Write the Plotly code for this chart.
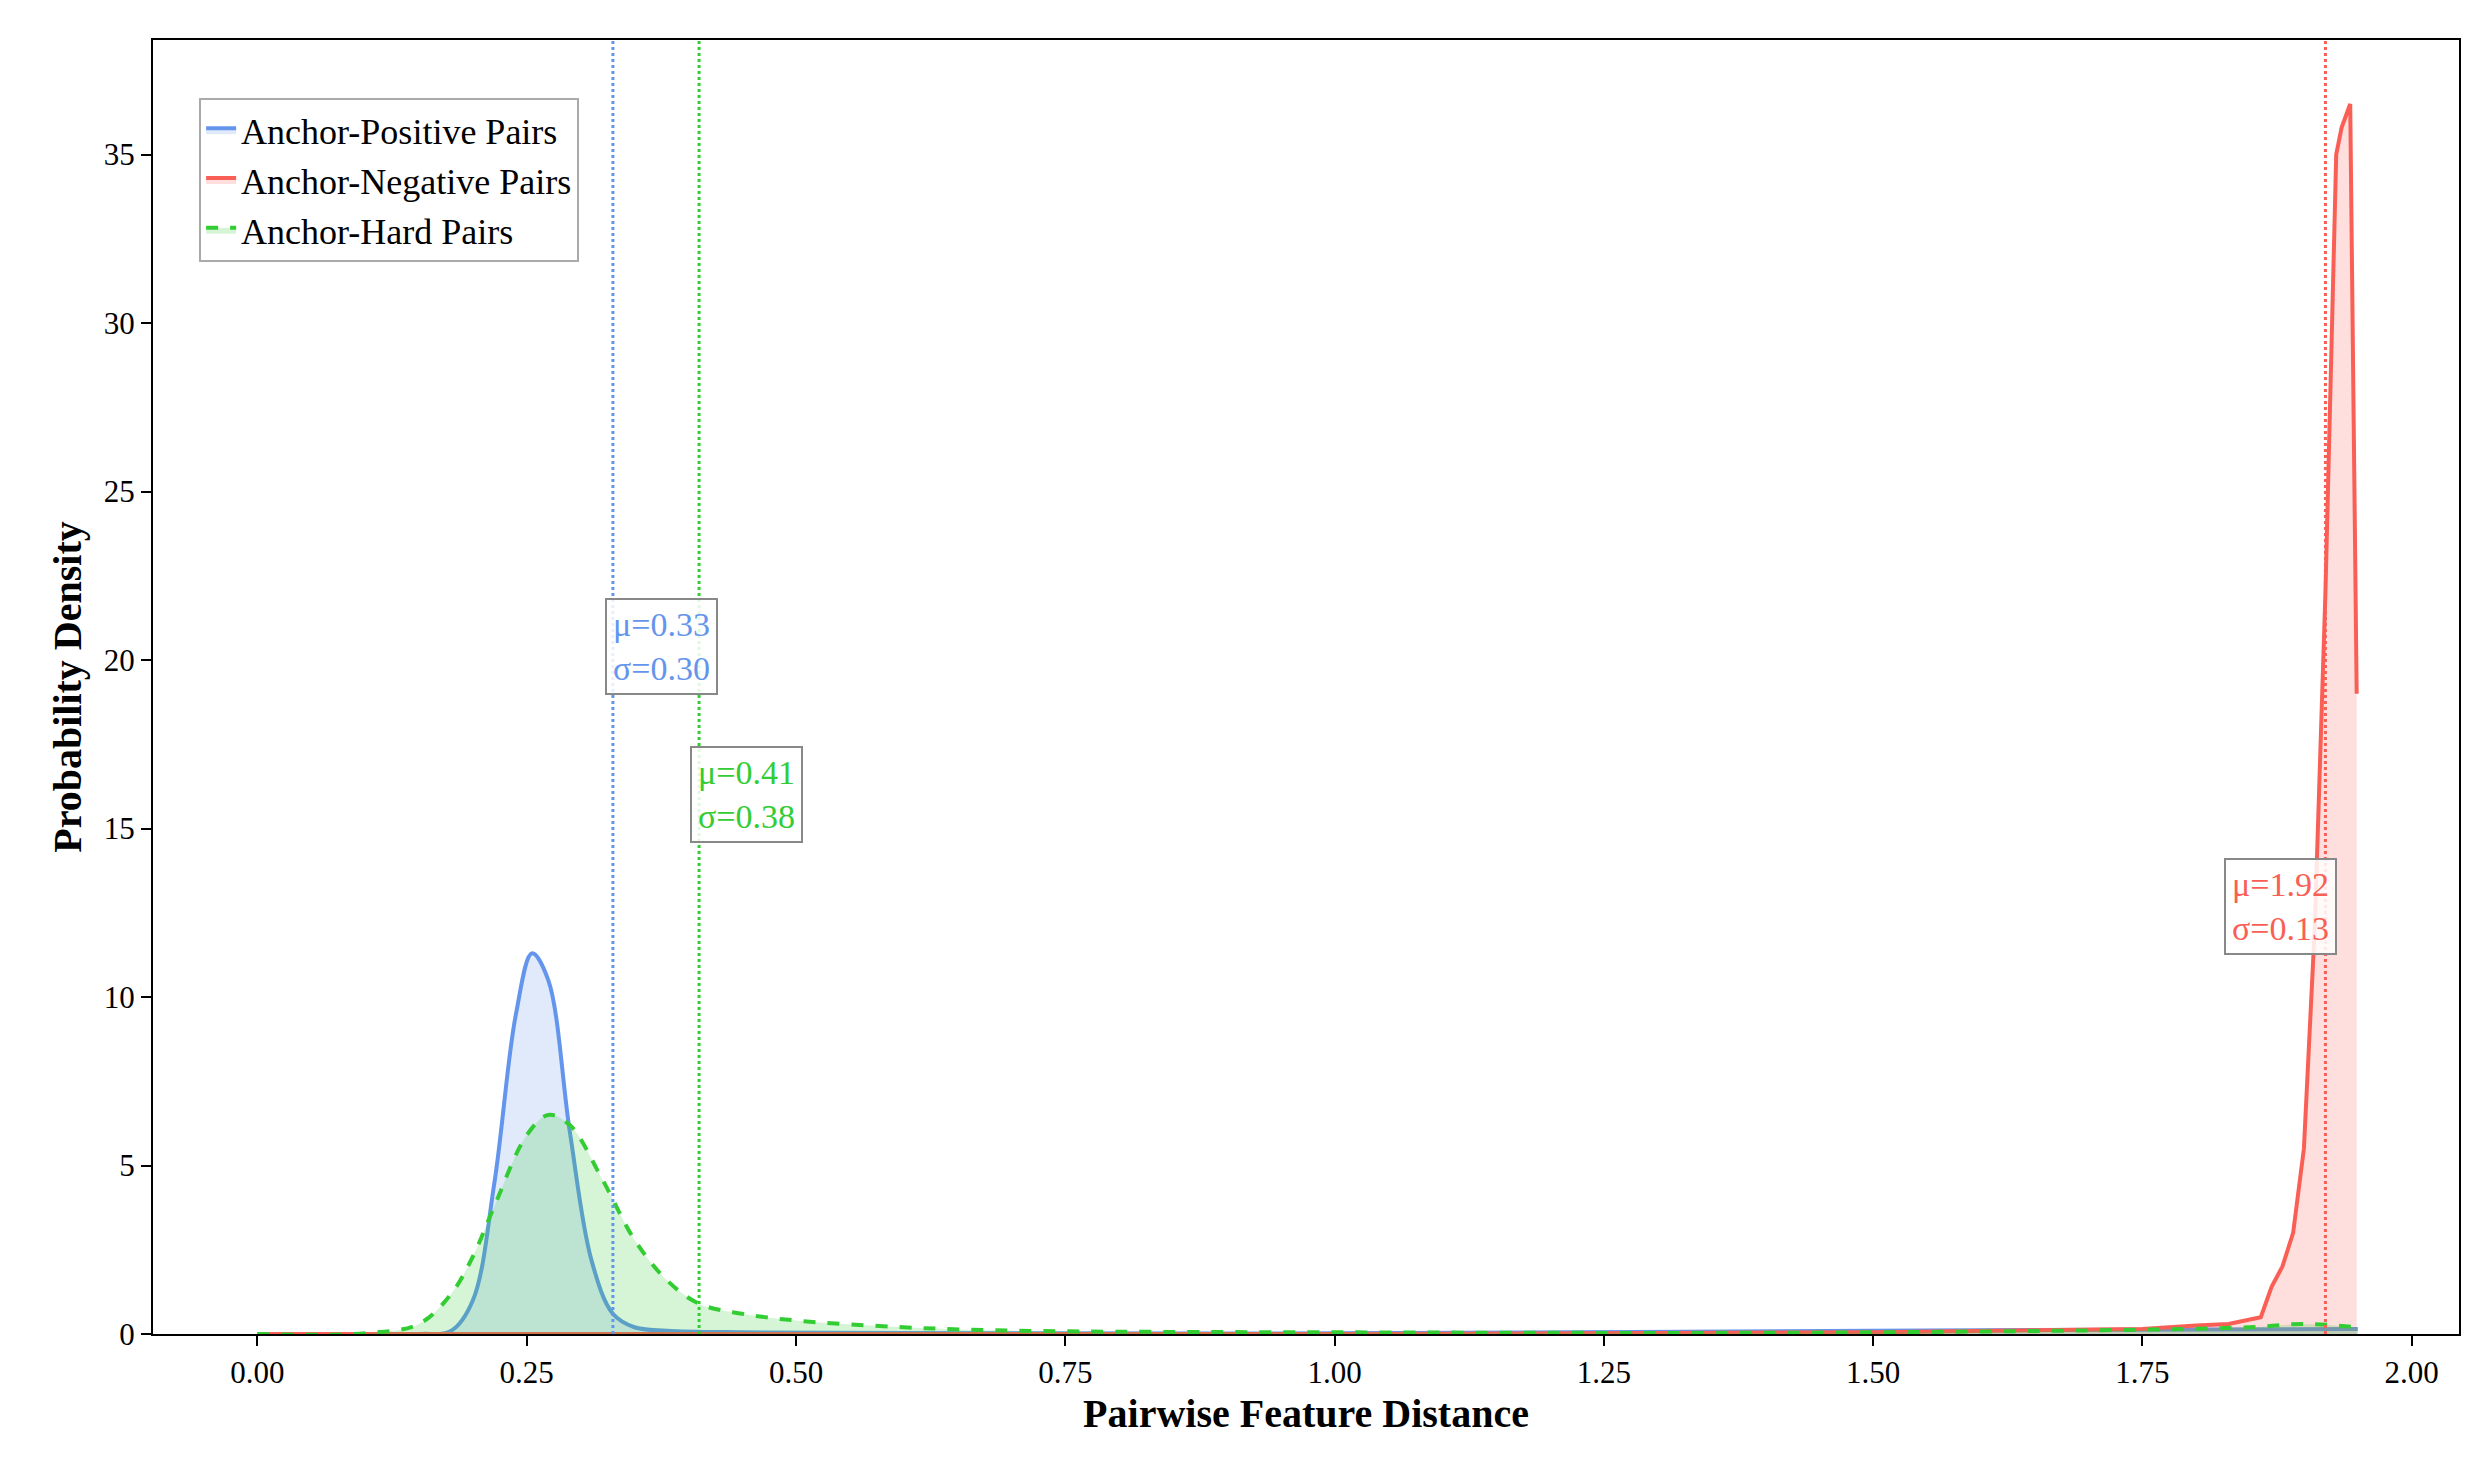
import plotly.graph_objects as go

# KDE curves
pos_x = [0, 0.15, 0.18, 0.20, 0.22, 0.24, 0.255, 0.27, 0.29, 0.31, 0.33, 0.35, 0.38, 0.45, 0.6, 1.0, 1.5, 1.95]
pos_y = [0, 0, 0.1, 1.0, 4.5, 9.5, 11.3, 10.5, 6.0, 2.2, 0.6, 0.2, 0.1, 0.05, 0.03, 0.02, 0.1, 0.15]

hard_x = [0, 0.1, 0.15, 0.18, 0.2, 0.22, 0.25, 0.27, 0.29, 0.32, 0.35, 0.38, 0.41, 0.45, 0.5, 0.6, 0.7, 1.0, 1.5, 1.85, 1.9, 1.95]
hard_y = [0, 0.02, 0.3, 1.2, 2.3, 3.8, 5.9, 6.5, 6.2, 4.6, 2.8, 1.6, 0.9, 0.6, 0.4, 0.2, 0.1, 0.05, 0.05, 0.2, 0.3, 0.2]

neg_x = [0, 0.5, 1.0, 1.5, 1.75, 1.8, 1.83, 1.86, 1.87, 1.88, 1.89, 1.90, 1.91, 1.92, 1.93, 1.935, 1.943, 1.949]
neg_y = [0, 0, 0, 0.05, 0.15, 0.25, 0.3, 0.5, 1.4, 2.0, 3.0, 5.5, 12, 22, 35.0, 35.8, 36.5, 19]

means = {"pos": 0.33, "hard": 0.41, "neg": 1.92}
stds = {"pos": 0.30, "hard": 0.38, "neg": 0.13}

BLUE, RED, GREEN = "#6495ED", "#FA5F55", "#32CD32"
FONT = "Liberation Serif"

fig = go.Figure()
fig.add_trace(go.Scatter(x=pos_x, y=pos_y, mode="lines", line=dict(color=BLUE, width=4, shape="spline"),
                         fill="tozeroy", fillcolor="rgba(100,149,237,0.2)", name="Anchor-Positive Pairs"))
fig.add_trace(go.Scatter(x=neg_x, y=neg_y, mode="lines", line=dict(color=RED, width=4),
                         fill="tozeroy", fillcolor="rgba(250,95,85,0.2)", name="Anchor-Negative Pairs"))
fig.add_trace(go.Scatter(x=hard_x, y=hard_y, mode="lines", line=dict(color=GREEN, width=4, dash="dash", shape="spline"),
                         fill="tozeroy", fillcolor="rgba(50,205,50,0.2)", name="Anchor-Hard Pairs"))

for key, col in [("pos", BLUE), ("hard", GREEN), ("neg", RED)]:
    fig.add_vline(x=means[key], line=dict(color=col, width=3, dash="dot"))

boxes = [("pos", BLUE, 0.323, 20.4, "left"), ("hard", GREEN, 0.402, 16.0, "left"), ("neg", RED, 1.931, 12.7, "right")]
for key, col, ax, ay, anc in boxes:
    fig.add_annotation(x=ax, y=ay, xanchor=anc, yanchor="middle", showarrow=False, align="left",
                       text=f"μ={means[key]:.2f}<br>σ={stds[key]:.2f}",
                       font=dict(family=FONT, size=34, color=col),
                       bgcolor="rgba(255,255,255,0.85)", bordercolor="#888", borderwidth=2, borderpad=6)

axis_common = dict(showgrid=False, zeroline=False, showline=True, linecolor="black", linewidth=2,
                   mirror=True, ticks="outside", ticklen=10, tickwidth=2, tickcolor="black",
                   tickfont=dict(family=FONT, size=31, color="black"))
fig.update_xaxes(range=[-0.097, 2.044], tickvals=[0, 0.25, 0.5, 0.75, 1.0, 1.25, 1.5, 1.75, 2.0],
                 tickformat=".2f",
                 title=dict(text="<b>Pairwise Feature Distance</b>", font=dict(family=FONT, size=40, color="black"), standoff=10),
                 **axis_common)
fig.update_yaxes(range=[0, 38.4], tickvals=[0, 5, 10, 15, 20, 25, 30, 35],
                 title=dict(text="<b>Probability Density</b>", font=dict(family=FONT, size=40, color="black"), standoff=10),
                 **axis_common)

fig.update_layout(width=2476, height=1458, plot_bgcolor="white", paper_bgcolor="white",
                  margin=dict(l=145, r=25, t=32, b=132),
                  legend=dict(x=0.02, y=0.955, xanchor="left", yanchor="top", bgcolor="white",
                              bordercolor="#aaa", borderwidth=2, font=dict(family=FONT, size=36, color="black")))

fig.write_html("out.html")
